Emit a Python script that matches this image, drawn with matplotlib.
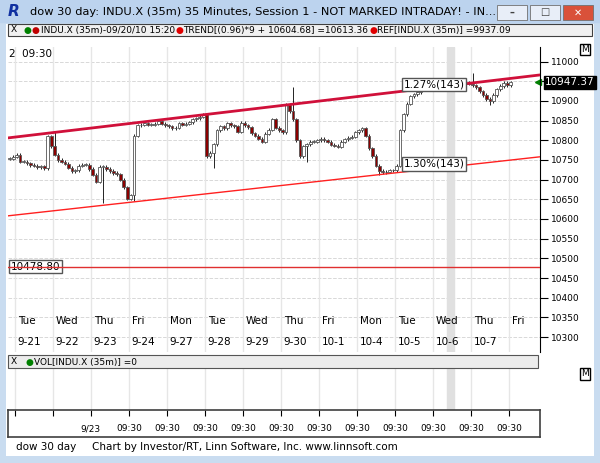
import matplotlib.pyplot as plt
from matplotlib.patches import Rectangle

# closes per 35m bar, bar index from -2
closes = [10753, 10758, 10763, 10745, 10745, 10742, 10737, 10735, 10732, 10734, 10729,
          10810, 10785, 10763, 10750, 10745, 10740, 10730, 10722, 10724, 10735, 10738,
          10738, 10727, 10712, 10695, 10732, 10732, 10727, 10722, 10717, 10714, 10700,
          10680, 10652, 10660, 10812, 10838, 10840, 10843, 10840, 10840, 10842, 10848,
          10842, 10838, 10835, 10830, 10832, 10843, 10840, 10842, 10846, 10853, 10856,
          10860, 10866, 10760, 10768, 10790, 10825, 10835, 10830, 10843, 10838, 10835,
          10822, 10845, 10838, 10833, 10818, 10812, 10804, 10796, 10817, 10827, 10853,
          10832, 10825, 10820, 10890, 10874, 10853, 10800, 10760, 10785, 10790, 10796,
          10796, 10800, 10804, 10800, 10796, 10789, 10786, 10784, 10796, 10802, 10806,
          10809, 10820, 10825, 10830, 10812, 10780, 10760, 10735, 10722, 10719, 10720,
          10724, 10724, 10735, 10825, 10866, 10893, 10912, 10917, 10922, 10928, 10933,
          10933, 10930, 10935, 10933, 10930, 10935, 10933, 10938, 10936, 10940, 10943,
          10946, 10944, 10940, 10935, 10925, 10915, 10905, 10899, 10915, 10930, 10938,
          10946, 10940, 10947]
spikes = {11: 10820, 25: 10640, 34: 10645, 57: 10730, 80: 10935, 84: 10745, 105: 10712, 132: 10970, 137: 10890}

day_names = ['Tue', 'Wed', 'Thu', 'Fri', 'Mon', 'Tue', 'Wed', 'Thu', 'Fri', 'Mon', 'Tue', 'Wed', 'Thu', 'Fri']
day_dates = ['9-21', '9-22', '9-23', '9-24', '9-27', '9-28', '9-29', '9-30', '10-1', '10-4', '10-5', '10-6', '10-7', '']
bottom_labels = ['', '', '9/23', '09:30', '09:30', '09:30', '09:30', '09:30', '09:30', '09:30', '09:30', '09:30', '09:30', '09:30']
upper_trend = (10806, 10966)
lower_trend = (10608, 10758)
ref_level = 10478.80
last_price = 10947.37

W, H = 600, 463
fig = plt.figure(figsize=(6, 4.63), dpi=100, facecolor='#c9dcf0')
def fx(x): return x / W
def fy(y): return 1 - y / H

# window title bar
fig.patches.append(Rectangle((0, fy(22)), 1, 22 / H, transform=fig.transFigure, color='#bcd3ee', zorder=-5))
fig.text(fx(30), fy(12), 'dow 30 day: INDU.X (35m) 35 Minutes, Session 1 - NOT MARKED INTRADAY! - IN...',
         fontsize=8.2, va='center', color='black')
fig.text(fx(8), fy(12), 'R', fontsize=11, fontweight='bold', color='#1030a0', va='center', style='italic')
for x0, c, s in [(497, '#e8eef8', '–'), (530, '#e8eef8', '□'), (563, '#d9513a', '✕')]:
    fig.patches.append(Rectangle((fx(x0), fy(20)), 30 / W, 15 / H, transform=fig.transFigure,
                                 facecolor=c, edgecolor='#707070', lw=0.6))
    fig.text(fx(x0 + 15), fy(12.5), s, fontsize=7, ha='center', va='center',
             color='white' if s == '✕' else '#404040', fontweight='bold')
# inner white area
fig.patches.append(Rectangle((fx(6), fy(456)), 588 / W, 432 / H, transform=fig.transFigure,
                             facecolor='white', edgecolor='none', zorder=-5))
# header legend strip
fig.patches.append(Rectangle((fx(8), fy(36)), 584 / W, 12 / H, transform=fig.transFigure,
                             facecolor='#f0f0f0', edgecolor='#404040', lw=0.8))
fig.text(fx(11), fy(30), 'X', fontsize=6.5, va='center')
fig.text(fx(24), fy(30), '●', fontsize=6.5, va='center', color='green')
fig.text(fx(32), fy(30), '●', fontsize=6.5, va='center', color='#c00000')
fig.text(fx(41), fy(30), 'INDU.X (35m)-09/20/10 15:20', fontsize=6.5, va='center')
fig.text(fx(176), fy(30), '●', fontsize=6.5, va='center', color='#e00000')
fig.text(fx(183), fy(30), 'TREND[(0.96)*9 + 10604.68] =10613.36', fontsize=6.5, va='center')
fig.text(fx(370), fy(30), '●', fontsize=6.5, va='center', color='#e00000')
fig.text(fx(377), fy(30), 'REF[INDU.X (35m)] =9937.09', fontsize=6.5, va='center')

# main price axes
ax = fig.add_axes([fx(8), fy(352), 532 / W, 305 / H])
ax.patch.set_alpha(0)
ax.set_xlim(-2.5, 151.5)
ax.set_ylim(10262, 11037)
for v in range(10300, 11001, 50):
    ax.axhline(v, color='#d8d8d8', lw=0.7, ls='--', zorder=0)
for d in range(14):
    ax.axvline(d * 11 - 0.5, color='#e6e6e6', lw=1, zorder=0)
    ax.text(d * 11 + 0.3, 10340, day_names[d], fontsize=7.5, va='center')
    ax.text(d * 11 + 0.3, 10288, day_dates[d], fontsize=7.5, va='center')
ax.axvspan(124.5, 126.5, color='#e0e0e0', zorder=0)

idx = list(range(-2, -2 + len(closes)))
for k, i in enumerate(idx):
    c = closes[k]
    o = closes[k - 1] if k > 0 else c
    hi = max(o, c) + 4
    lo = min(o, c) - 4
    if i in spikes:
        hi = max(hi, spikes[i])
        lo = min(lo, spikes[i])
    ax.vlines(i, lo, hi, color='black', lw=0.6, zorder=2)
    fc = 'white' if c >= o else '#8b0000'
    ax.add_patch(Rectangle((i - 0.4, min(o, c)), 0.8, max(abs(c - o), 1.5),
                           facecolor=fc, edgecolor='#555555', lw=0.6, zorder=3))

ax.plot([-2.5, 151.5], upper_trend, color='#d0103a', lw=2, zorder=4)
ax.plot([-2.5, 151.5], lower_trend, color='#ff2020', lw=1, zorder=4)
ax.axhline(ref_level, color='#e03030', lw=1, zorder=4)
ax.text(-1.8, ref_level, '10478.80', fontsize=7.5, va='center',
        bbox=dict(facecolor='white', edgecolor='#555555', pad=1.2))
ax.text(112, 10942, '1.27%(143)', fontsize=7.5, va='center',
        bbox=dict(facecolor='white', edgecolor='#555555', pad=1.2), zorder=5)
ax.text(112, 10740, '1.30%(143)', fontsize=7.5, va='center',
        bbox=dict(facecolor='white', edgecolor='#555555', pad=1.2), zorder=5)
ax.text(-2.3, 11020, '2  09:30', fontsize=7.5, va='center')
ax.plot([151], [last_price], marker='<', color='green', ms=5, clip_on=False)
ax.text(153, last_price, f'{last_price:.2f}', fontsize=7.5, va='center', color='white',
        bbox=dict(facecolor='black', edgecolor='black', pad=1.2), clip_on=False, zorder=6)

ax.yaxis.tick_right()
yt = list(range(10300, 11001, 50))
ax.set_yticks(yt)
# 10950 label sits under the last-price box
ax.set_yticklabels(['' if v == 10950 else str(v) for v in yt])
ax.tick_params(axis='y', labelsize=6.5, length=6, direction='out', pad=2)
ax.set_xticks([])
for s in ['top', 'left', 'bottom']:
    ax.spines[s].set_visible(False)
ax.spines['right'].set_color('black')
ax.text(164.5, 11030, 'M', fontsize=6.5, va='center', ha='center', clip_on=False,
        bbox=dict(facecolor='white', edgecolor='black', pad=0.8))

# volume pane
fig.patches.append(Rectangle((fx(8), fy(368)), 530 / W, 13 / H, transform=fig.transFigure,
                             facecolor='#ececec', edgecolor='#555555', lw=0.8))
fig.text(fx(11), fy(362), 'X', fontsize=6.5, va='center')
fig.text(fx(26), fy(362), '●', fontsize=6.5, va='center', color='green')
fig.text(fx(34), fy(362), 'VOL[INDU.X (35m)] =0', fontsize=6.5, va='center')
fig.text(fx(585), fy(374), 'M', fontsize=6.5, va='center', ha='center',
         bbox=dict(facecolor='white', edgecolor='black', pad=0.8))
vax = fig.add_axes([fx(8), fy(410), 532 / W, 42 / H])
vax.set_xlim(-2.5, 151.5)
for d in range(14):
    vax.axvline(d * 11 - 0.5, color='#e6e6e6', lw=1)
vax.axvspan(124.5, 126.5, color='#e0e0e0')
vax.axis('off')

# time axis box
tax = fig.add_axes([fx(8), fy(437), 532 / W, 27 / H])
tax.set_xlim(-2.5, 151.5)
tax.set_ylim(0, 1)
tax.set_yticks([])
tax.set_xticks([d * 11 - 0.5 for d in range(14)])
tax.set_xticklabels([])
tax.tick_params(axis='x', direction='in', length=4, top=True, bottom=False)
for d in range(14):
    tax.text(d * 11 - 0.5, 0.3, bottom_labels[d], fontsize=6.5, ha='center', va='center')
for s in tax.spines.values():
    s.set_color('#404040')
    s.set_linewidth(1.2)

fig.text(fx(16), fy(447), 'dow 30 day', fontsize=7.5, va='center')
fig.text(fx(92), fy(447), 'Chart by Investor/RT, Linn Software, Inc. www.linnsoft.com', fontsize=7.5, va='center')

fig.savefig('out.png', dpi=100, facecolor=fig.get_facecolor())
